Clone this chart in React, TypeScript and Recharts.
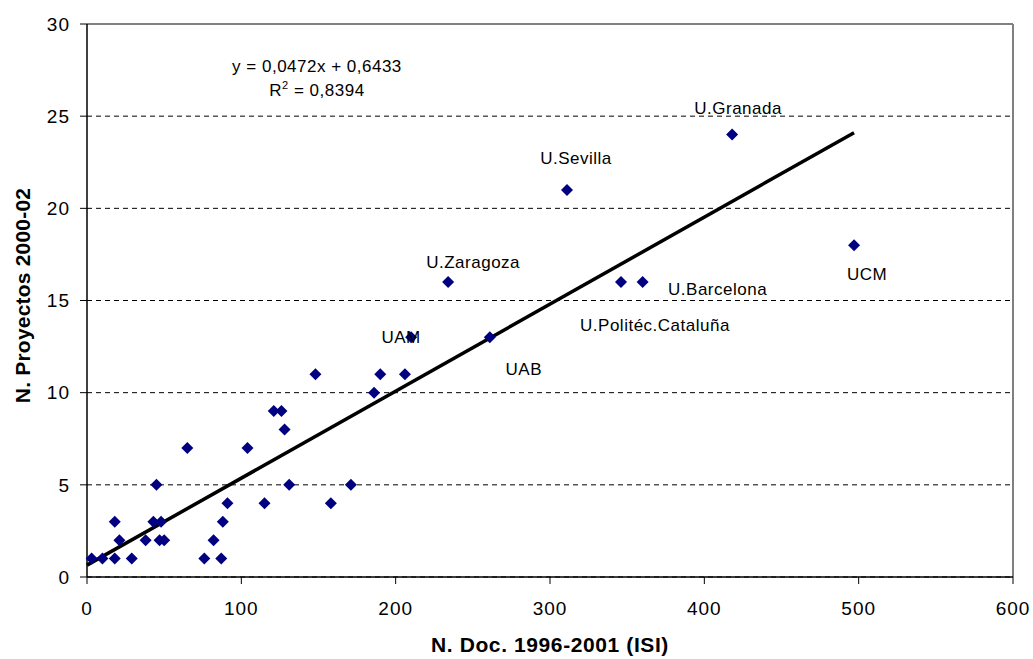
import {
  CartesianGrid,
  ReferenceDot,
  ReferenceLine,
  Scatter,
  ScatterChart,
  XAxis,
  YAxis,
} from "recharts";

// N. documentos ISI 1996-2001 por universidad
const docs = [
  3, 10, 18, 18, 21, 29, 38, 43, 45, 47, 48, 50, 65, 76, 82, 87, 88, 91, 104,
  115, 121, 126, 128, 131, 148, 158, 171, 186, 190, 206, 210, 234, 261, 311,
  346, 360, 418, 497,
];
// N. proyectos 2000-02
const projects = [
  1, 1, 1, 3, 2, 1, 2, 3, 5, 2, 3, 2, 7, 1, 2, 1, 3, 4, 7, 4, 9, 9, 8, 5, 11, 4,
  5, 10, 11, 11, 13, 16, 13, 21, 16, 16, 24, 18,
];
// nombres de las últimas universidades de la lista
const universities = [
  "UAM",
  "U.Zaragoza",
  "UAB",
  "U.Sevilla",
  "U.Politéc.Cataluña",
  "U.Barcelona",
  "U.Granada",
  "UCM",
];

const xTicks = [0, 100, 200, 300, 400, 500, 600];
const yTicks = [0, 5, 10, 15, 20, 25, 30];

// recta de regresión lineal
const SLOPE = 0.0472;
const INTERCEPT = 0.6433;
const R2 = "0,8394";

// posición de cada etiqueta respecto al punto (centro del texto, línea base)
const LABEL_OFFSETS: Record<string, [number, number]> = {
  UAM: [-10, 6],
  "U.Zaragoza": [25, -14],
  UAB: [34, 38],
  "U.Sevilla": [9, -26],
  "U.Politéc.Cataluña": [34, 49],
  "U.Barcelona": [75, 13],
  "U.Granada": [6, -21],
  UCM: [13, 35],
};
const EQ_ANCHOR = { x: 149, y: 27.4 };

const FONT = "Arial, 'Liberation Sans', sans-serif";
const MARKER = "#000080";

const firstNamed = docs.length - universities.length;
const points = docs.map((x, i) => ({
  x,
  y: projects[i],
  name: i >= firstNamed ? universities[i - firstNamed] : "",
}));
const xMax = Math.max(...docs);

function Diamond(props: any) {
  const { cx, cy, payload } = props;
  const r = 6;
  const off = payload.name ? LABEL_OFFSETS[payload.name] : null;
  return (
    <g>
      <polygon
        points={`${cx},${cy - r} ${cx + r},${cy} ${cx},${cy + r} ${cx - r},${cy}`}
        fill={MARKER}
      />
      {off && (
        <text
          x={cx + off[0]}
          y={cy + off[1]}
          textAnchor="middle"
          fontSize={17}
          letterSpacing={0.5}
          fontFamily={FONT}
          fill="#000"
        >
          {payload.name}
        </text>
      )}
    </g>
  );
}

function Equation(props: any) {
  const { cx, cy } = props;
  const fmt = (v: number) => v.toFixed(4).replace(".", ",");
  return (
    <g fontFamily={FONT} fontSize={17} letterSpacing={0.5} fill="#000">
      <text x={cx} y={cy} textAnchor="middle">
        {`y = ${fmt(SLOPE)}x + ${fmt(INTERCEPT)}`}
      </text>
      <text x={cx} y={cy + 24.5} textAnchor="middle">
        R<tspan dy={-7} fontSize={11}>2</tspan>
        <tspan dy={7}>{` = ${R2}`}</tspan>
      </text>
    </g>
  );
}

function XTitle(props: any) {
  const { viewBox } = props;
  return (
    <text
      x={viewBox.x + viewBox.width / 2}
      y={viewBox.y + viewBox.height - 7}
      textAnchor="middle"
      fontFamily={FONT}
      fontSize={21}
      fontWeight={700}
      letterSpacing={0.6}
      fill="#000"
    >
      N. Doc. 1996-2001 (ISI)
    </text>
  );
}

function YTitle(props: any) {
  const { viewBox } = props;
  const x = viewBox.x + 30;
  const y = viewBox.y + viewBox.height / 2 - 5;
  return (
    <text
      x={x}
      y={y}
      transform={`rotate(-90 ${x} ${y})`}
      textAnchor="middle"
      fontFamily={FONT}
      fontSize={21}
      fontWeight={700}
      letterSpacing={0.2}
      fill="#000"
    >
      N. Proyectos 2000-02
    </text>
  );
}

const tickStyle = {
  fontSize: 19,
  fill: "#000",
  fontFamily: FONT,
  letterSpacing: 1,
};

export default function App() {
  return (
    <div
      style={{
        position: "fixed",
        left: 0,
        top: 0,
        width: 1033,
        height: 659,
        background: "#fff",
        fontFamily: FONT,
      }}
    >
      <ScatterChart
        width={1033}
        height={659}
        margin={{ top: 24, right: 20, bottom: 0, left: 0 }}
      >
        <CartesianGrid
          vertical={false}
          stroke="#000"
          strokeDasharray="5 4"
          strokeWidth={1}
        />
        <XAxis
          type="number"
          dataKey="x"
          domain={[0, 600]}
          ticks={xTicks}
          height={82}
          tickSize={7}
          tickMargin={18}
          axisLine={{ stroke: "#000", strokeWidth: 1.5 }}
          tickLine={{ stroke: "#000" }}
          tick={tickStyle}
          label={<XTitle />}
        />
        <YAxis
          type="number"
          dataKey="y"
          domain={[0, 30]}
          ticks={yTicks}
          width={87}
          tickSize={7}
          tickMargin={10}
          axisLine={{ stroke: "#000", strokeWidth: 1.5 }}
          tickLine={{ stroke: "#000" }}
          tick={tickStyle}
          label={<YTitle />}
        />
        <ReferenceLine y={30} stroke="#808080" strokeWidth={2} />
        <ReferenceLine x={600} stroke="#808080" strokeWidth={2} />
        <ReferenceLine
          segment={[
            { x: 0, y: INTERCEPT },
            { x: xMax, y: SLOPE * xMax + INTERCEPT },
          ]}
          stroke="#000"
          strokeWidth={3.5}
          ifOverflow="visible"
        />
        <Scatter data={points} shape={Diamond} isAnimationActive={false} />
        <ReferenceDot
          x={EQ_ANCHOR.x}
          y={EQ_ANCHOR.y}
          r={0}
          shape={Equation}
          ifOverflow="visible"
        />
      </ScatterChart>
    </div>
  );
}
